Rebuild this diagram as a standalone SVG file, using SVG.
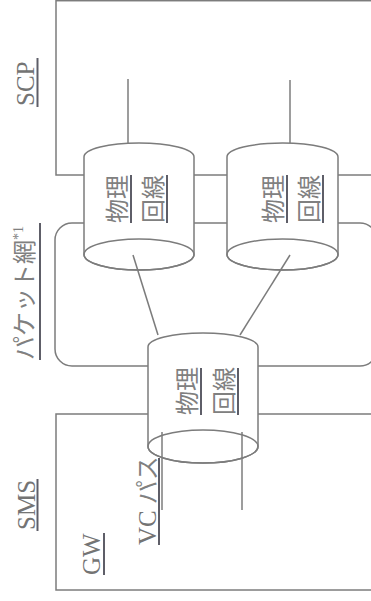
<svg xmlns="http://www.w3.org/2000/svg" width="371" height="601" viewBox="0 0 371 601">
<style>
.ln{fill:none;stroke:#7c7c7c;stroke-width:1.5}
.cyl{fill:#fff;stroke:#7c7c7c;stroke-width:1.5}
.t{font-family:"Liberation Serif","Noto Sans CJK JP",serif;font-size:24px;fill:#808080}
.l{font-size:25px;fill:#747474}
.ul{stroke:#5e5e68;stroke-width:2}
</style>
<rect width="371" height="601" fill="#fff"/>
<g id="scp">
<rect class="ln" x="56" y="0.7" width="330" height="174.3"/>
<text class="t l" transform="translate(34,106) rotate(-90)">SCP</text>
<line class="ul" x1="37.5" y1="58" x2="37.5" y2="107"/>
</g>
<g id="packet">
<rect class="ln" x="55" y="223" width="322" height="143" rx="17"/>
<text class="t" transform="translate(33,360) rotate(-90)">パケット網<tspan font-size="14" dy="-10">*1</tspan></text>
<line class="ul" x1="40" y1="223" x2="40" y2="360"/>
</g>
<g id="sms">
<rect class="ln" x="56" y="414" width="330" height="176"/>
<text class="t l" transform="translate(35,530) rotate(-90)">SMS</text>
<line class="ul" x1="37.5" y1="479" x2="37.5" y2="531"/>
<text class="t l" transform="translate(100,575) rotate(-90)">GW</text>
<line class="ul" x1="104" y1="533" x2="104" y2="575"/>
</g>
<g id="cyl1">
<path class="cyl" d="M84,157 A55,14 0 0 1 194,157 L194,254.5 A55,15.5 0 0 1 84,254.5 Z"/>
<ellipse class="ln" cx="139" cy="254.5" rx="55" ry="15.5"/>
<text class="t" transform="translate(126,223) rotate(-90)">物理</text>
<line class="ul" x1="131" y1="175" x2="131" y2="223"/>
<text class="t" transform="translate(162,223) rotate(-90)">回線</text>
<line class="ul" x1="167" y1="175" x2="167" y2="223"/>
</g>
<g id="cyl2">
<path class="cyl" d="M227,157 A55.5,14 0 0 1 338,157 L338,254.5 A55.5,15.5 0 0 1 227,254.5 Z"/>
<ellipse class="ln" cx="282.5" cy="254.5" rx="55.5" ry="15.5"/>
<text class="t" transform="translate(282,223) rotate(-90)">物理</text>
<line class="ul" x1="287" y1="175" x2="287" y2="223"/>
<text class="t" transform="translate(318,223) rotate(-90)">回線</text>
<line class="ul" x1="323" y1="175" x2="323" y2="223"/>
</g>
<g id="cyl3">
<path class="cyl" d="M148,347 A55,14 0 0 1 258,347 L258,446.5 A55,16.5 0 0 1 148,446.5 Z"/>
<ellipse class="ln" cx="203" cy="446.5" rx="55" ry="16.5"/>
<text class="t" transform="translate(196,415) rotate(-90)">物理</text>
<line class="ul" x1="201" y1="368" x2="201" y2="415"/>
<text class="t" transform="translate(233,415) rotate(-90)">回線</text>
<line class="ul" x1="238" y1="368" x2="238" y2="415"/>
</g>
<g id="connectors">
<line class="ln" x1="128" y1="79" x2="128" y2="143"/>
<line class="ln" x1="290" y1="80" x2="290" y2="143"/>
<line class="ln" x1="133" y1="255" x2="158" y2="335"/>
<line class="ln" x1="290" y1="255" x2="240" y2="335"/>
<line class="ln" x1="162" y1="432" x2="162" y2="510"/>
<line class="ln" x1="242" y1="432" x2="242" y2="510"/>
</g>
<g id="vcpath">
<text class="t" transform="translate(156,545) rotate(-90)"><tspan class="l" font-size="24">VC</tspan> パス</text>
<line class="ul" x1="159" y1="458" x2="159" y2="545"/>
</g>
</svg>
